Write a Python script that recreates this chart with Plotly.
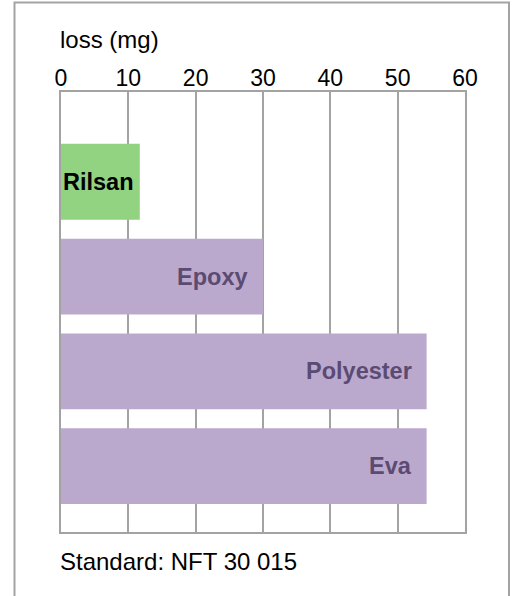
import plotly.graph_objects as go

categories = ["Rilsan", "Epoxy", "Polyester", "Eva"]
loss_mg = [11.7, 30.0, 54.3, 54.3]
bar_colors = ["#91d380", "#bba9cd", "#bba9cd", "#bba9cd"]
label_colors = ["#000000", "#5b4b73", "#5b4b73", "#5b4b73"]
label_shift = [-4, -13, -13, -13]
x_ticks = [0, 10, 20, 30, 40, 50, 60]

W, H = 516, 596
L, R, T, B = 61, 465, 92, 532
pw, ph = R - L, B - T

FONT = "Liberation Sans, Arial, Helvetica, sans-serif"
GRAY = "#a3a3a3"

fig = go.Figure(
    go.Bar(
        x=loss_mg,
        y=categories,
        orientation="h",
        marker=dict(color=bar_colors, line=dict(width=0)),
        hoverinfo="skip",
    )
)

annotations = []
for c, v, col, sh in zip(categories, loss_mg, label_colors, label_shift):
    annotations.append(dict(
        x=v, y=c, xref="x", yref="y", text=f"<b>{c}</b>", showarrow=False,
        xanchor="right", yanchor="middle", xshift=sh,
        font=dict(family=FONT, size=23.5, color=col),
    ))

annotations.append(dict(
    x=0, y=(B - 55.5) / ph, xref="paper", yref="paper", text="loss (mg)",
    showarrow=False, xanchor="left", yanchor="bottom", xshift=-3,
    font=dict(family=FONT, size=24, color="#000000"),
))
annotations.append(dict(
    x=0, y=(B - 561) / ph, xref="paper", yref="paper", text="Standard: NFT 30 015",
    showarrow=False, xanchor="left", yanchor="middle", xshift=-3,
    font=dict(family=FONT, size=24, color="#000000"),
))

fig.update_layout(
    width=W, height=H,
    margin=dict(l=L, r=W - R, t=T, b=H - B, pad=0),
    paper_bgcolor="white", plot_bgcolor="white",
    bargap=0.2, showlegend=False,
    font=dict(family=FONT, color="#000000"),
    annotations=annotations,
    shapes=[dict(
        type="rect", xref="paper", yref="paper", layer="below",
        x0=(14.5 - L) / pw, x1=(509 - L) / pw,
        y0=(B - 640) / ph, y1=(B - 2.5) / ph,
        line=dict(color=GRAY, width=2), fillcolor="rgba(0,0,0,0)",
    )],
    xaxis=dict(
        range=[0, 60], tickvals=x_ticks, side="top",
        showgrid=True, gridcolor=GRAY, gridwidth=1.5,
        showline=True, mirror=True, linecolor=GRAY, linewidth=2,
        zeroline=False, ticks="", ticklabelstandoff=-5,
        tickfont=dict(family=FONT, size=23, color="#000000"),
        fixedrange=True,
    ),
    yaxis=dict(
        type="category", categoryorder="array", categoryarray=categories,
        range=[3.695, -0.947], showticklabels=False, showgrid=False,
        showline=True, mirror=True, linecolor=GRAY, linewidth=2,
        zeroline=False, ticks="", fixedrange=True,
    ),
)

fig.write_html(
    "out.html",
    config={"displayModeBar": False},
    post_script="document.body.style.margin='0';document.body.style.overflow='hidden';",
)
